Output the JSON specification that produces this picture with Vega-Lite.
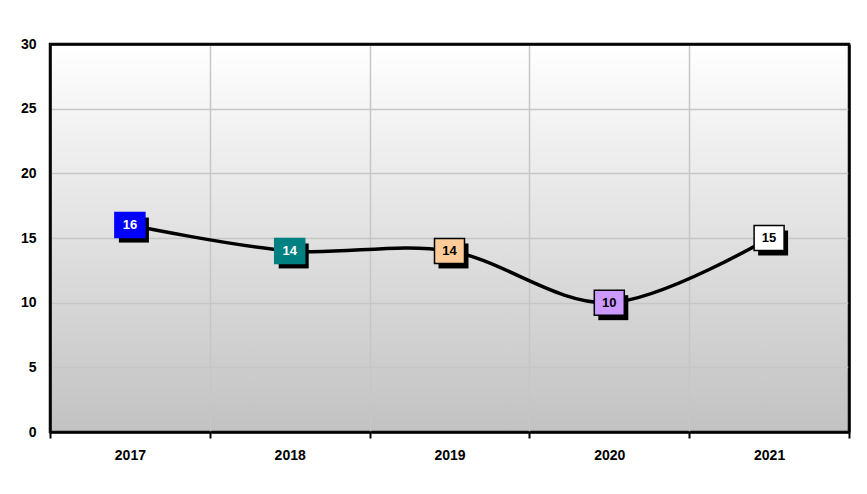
{
  "$schema": "https://vega.github.io/schema/vega-lite/v6.json",
  "autosize": {"type": "none"},
  "width": 799,
  "height": 388,
  "padding": {"left": 50, "top": 44, "right": 18, "bottom": 62},
  "background": "#ffffff",
  "view": {
    "stroke": "#000000",
    "strokeWidth": 2.5,
    "fill": {
      "gradient": "linear",
      "x1": 0, "y1": 0, "x2": 0, "y2": 1,
      "stops": [
        {"offset": 0, "color": "#ffffff"},
        {"offset": 1, "color": "#c2c2c2"}
      ]
    }
  },
  "config": {
    "font": "Liberation Sans",
    "axis": {
      "labelFont": "Liberation Sans",
      "labelFontWeight": "bold",
      "labelFontSize": 14,
      "labelColor": "#000000",
      "gridColor": "#c6c6c6",
      "gridWidth": 1.5,
      "gridOpacity": 1,
      "domainColor": "#000000",
      "domainWidth": 2.5,
      "tickColor": "#000000",
      "tickWidth": 2
    }
  },
  "data": {
    "values": [
      {"year": "2017", "value": 16},
      {"year": "2018", "value": 14},
      {"year": "2019", "value": 14},
      {"year": "2020", "value": 10},
      {"year": "2021", "value": 15}
    ]
  },
  "layer": [
    {
      "mark": {"type": "line", "interpolate": "cardinal", "color": "#000000", "strokeWidth": 3.5},
      "encoding": {
        "x": {
          "field": "year",
          "type": "nominal",
          "scale": {"type": "band", "paddingInner": 0, "paddingOuter": 0},
          "axis": {
            "orient": "bottom",
            "title": null,
            "labelAngle": 0,
            "grid": true,
            "tickBand": "extent",
            "ticks": true,
            "tickSize": 6,
            "labelPadding": 10,
            "domain": true
          }
        },
        "y": {
          "field": "value",
          "type": "quantitative",
          "scale": {"domain": [0, 30], "nice": false, "zero": true},
          "axis": {
            "orient": "left",
            "title": null,
            "values": [0, 5, 10, 15, 20, 25, 30],
            "ticks": false,
            "labelPadding": 14,
            "domain": true,
            "grid": true
          }
        }
      }
    },
    {
      "mark": {
        "type": "point",
        "shape": "M-1.2,-1L1.2,-1L1.2,1L-1.2,1Z",
        "size": 625,
        "filled": true,
        "fill": "#000000",
        "fillOpacity": 1,
        "strokeWidth": 0,
        "xOffset": 4,
        "yOffset": 5
      },
      "encoding": {
        "x": {
          "field": "year",
          "type": "nominal",
          "axis": {"orient": "top", "title": null, "labels": false, "ticks": false, "grid": false, "domain": true}
        },
        "y": {
          "field": "value",
          "type": "quantitative",
          "axis": {"orient": "right", "title": null, "labels": false, "ticks": false, "grid": false, "domain": true}
        }
      }
    },
    {
      "mark": {
        "type": "point",
        "shape": "M-1.2,-1L1.2,-1L1.2,1L-1.2,1Z",
        "size": 625,
        "filled": true,
        "fillOpacity": 1,
        "strokeWidth": 1.5,
        "strokeOpacity": 1
      },
      "encoding": {
        "x": {"field": "year", "type": "nominal", "axis": null},
        "y": {"field": "value", "type": "quantitative", "axis": null},
        "fill": {
          "field": "year",
          "type": "nominal",
          "scale": {"domain": ["2017", "2018", "2019", "2020", "2021"], "range": ["#0000ff", "#008080", "#ffcc99", "#cc99ff", "#ffffff"]},
          "legend": null
        },
        "stroke": {
          "field": "year",
          "type": "nominal",
          "scale": {"domain": ["2017", "2018", "2019", "2020", "2021"], "range": ["#0000ff", "#008080", "#000000", "#000000", "#000000"]},
          "legend": null
        }
      }
    },
    {
      "mark": {"type": "text", "fontWeight": "bold", "fontSize": 13, "font": "Liberation Sans", "baseline": "middle", "align": "center"},
      "encoding": {
        "x": {"field": "year", "type": "nominal", "axis": null},
        "y": {"field": "value", "type": "quantitative", "axis": null},
        "text": {"field": "value", "type": "quantitative"},
        "color": {
          "field": "year",
          "type": "nominal",
          "scale": {"domain": ["2017", "2018", "2019", "2020", "2021"], "range": ["#ffffff", "#ffffff", "#000000", "#000000", "#000000"]},
          "legend": null
        }
      }
    }
  ],
  "resolve": {"scale": {"color": "independent", "fill": "independent", "stroke": "independent"}, "axis": {"x": "independent", "y": "independent"}}
}
